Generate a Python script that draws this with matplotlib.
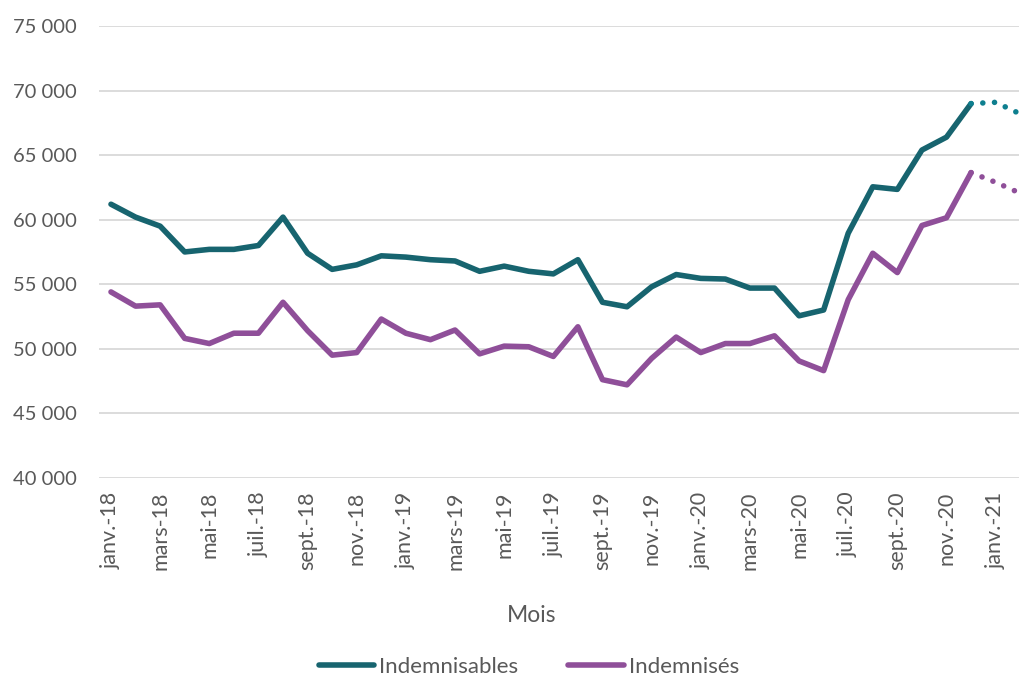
import numpy as np
import matplotlib
matplotlib.use("Agg")
from matplotlib import pyplot as plt
from matplotlib.lines import Line2D

plt.rcParams['font.family'] = ['Lato', 'DejaVu Sans']

# month labels, janv.-18 .. févr.-21
noms = ["janv.", "févr.", "mars", "avr.", "mai", "juin",
        "juil.", "août", "sept.", "oct.", "nov.", "déc."]
mois = [n + "-" + a for a in ["18", "19", "20"] for n in noms] + ["janv.-21", "févr.-21"]

# observed values (janv.-18 .. déc.-20)
indemnisables = [61200, 60200, 59500, 57500, 57700, 57700, 58000, 60200, 57400, 56150, 56500, 57200,
                 57100, 56900, 56800, 56000, 56400, 56000, 55800, 56900, 53600, 53250, 54800, 55750,
                 55450, 55400, 54700, 54700, 52550, 53000, 58950, 62550, 62350, 65400, 66400, 69000]
indemnises = [54400, 53300, 53400, 50800, 50400, 51200, 51200, 53600, 51400, 49500, 49700, 52300,
              51200, 50700, 51450, 49600, 50200, 50150, 49400, 51700, 47600, 47200, 49250, 50900,
              49700, 50400, 50400, 51000, 49050, 48300, 53800, 57400, 55900, 59550, 60150, 63650]

# dotted part (déc.-20 .. févr.-21)
prev_indemnisables = [69000, 69100, 68200]
prev_indemnises = [63650, 62900, 62050]

teal = "#17646F"
teal_dot = "#0E7F8F"
violet = "#8F4F99"
gris = "#595959"

fig = plt.figure(figsize=(10.19, 6.8), dpi=100)
ax = fig.add_axes([98.7 / 1019, 1 - 477.7 / 680, (1019 - 98.7) / 1019, (477.7 - 26.2) / 680])

x = np.arange(len(indemnisables))
xp = np.arange(len(indemnisables) - 1, len(indemnisables) - 1 + len(prev_indemnisables))

ax.plot(x, indemnisables, color=teal, lw=4, solid_capstyle='round', solid_joinstyle='round', zorder=3)
ax.plot(x, indemnises, color=violet, lw=4, solid_capstyle='round', solid_joinstyle='round', zorder=3)
ax.plot(xp, prev_indemnisables, color=teal_dot, lw=4, linestyle=(0, (0.01, 2.1)),
        dash_capstyle='round', zorder=3)
ax.plot(xp, prev_indemnises, color=violet, lw=4, linestyle=(0, (0.01, 2.1)),
        dash_capstyle='round', zorder=3)

ax.set_xlim(-0.5, 36.95)
ax.set_ylim(40000, 75000)
yt = np.arange(40000, 75001, 5000)
ax.set_yticks(yt)
ax.set_yticklabels([f"{v:,}".replace(",", " ") for v in yt])
xt = np.arange(0, len(mois), 2)
ax.set_xticks(xt)
ax.set_xticklabels([mois[i] for i in xt], rotation=90, va='top', ha='center')

ax.grid(axis='y', color="#D9D9D9", lw=1.3)
ax.set_axisbelow(True)
for s in ax.spines.values():
    s.set_visible(False)
ax.tick_params(axis='both', length=0, labelcolor=gris)
ax.tick_params(axis='y', pad=16, labelsize=14.5)
ax.tick_params(axis='x', pad=10, labelsize=15.5)

fig.text(532 / 1019, 1 - 615 / 680, "Mois", ha='center', va='center', fontsize=16.5, color=gris)

handles = [Line2D([], [], color=teal, lw=4, solid_capstyle='round'),
           Line2D([], [], color=violet, lw=4, solid_capstyle='round')]
fig.legend(handles, ["Indemnisables", "Indemnisés"], loc='center',
           bbox_to_anchor=(529 / 1019, 1 - 667 / 680), ncol=2, frameon=False,
           fontsize=16, labelcolor=gris, handlelength=2.5, handletextpad=0.23,
           columnspacing=2.25)

fig.savefig("out.png", dpi=100)
